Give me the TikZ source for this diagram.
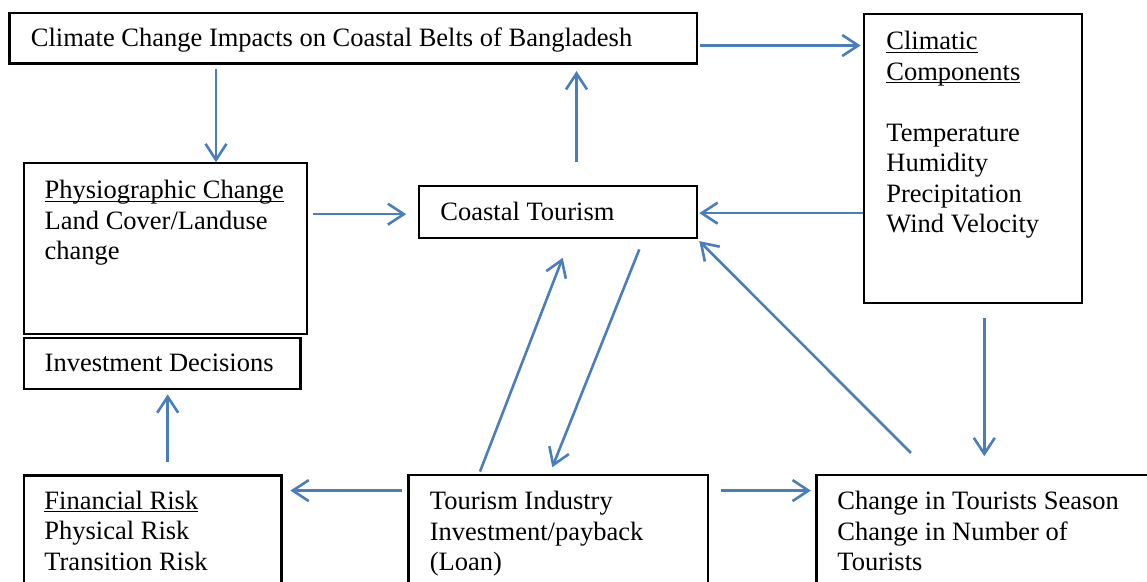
\documentclass[tikz,border=0pt]{standalone}
\usepackage{fontspec}
\setmainfont{Liberation Serif}
\usetikzlibrary{arrows.meta,calc}
\definecolor{arrblue}{HTML}{4A7EBB}
\newsavebox\ulbox
\newcommand\myul[1]{\sbox\ulbox{#1}\rlap{\rule[-1.5pt]{\wd\ulbox}{0.65pt}}\usebox\ulbox}
\newcommand\lines[1]{\begin{tabular}[t]{@{}l@{}}#1\end{tabular}}
\tikzset{
  boxnode/.style={draw=black, line width=1.1pt, inner sep=0pt, fill=none},
  txt/.style={anchor=base west, inner sep=0pt, font=\fontsize{13.25}{15.25}\selectfont},
  arr/.style={draw=arrblue, line width=1.3pt, -{Straight Barb[length=8pt,width=10.5pt]}},
}
\begin{document}
\begin{tikzpicture}[x=0.5pt,y=-0.5pt]
\useasboundingbox (0,0) rectangle (1147,582);
\clip (0,0) rectangle (1147,582);
% boxes
\node[boxnode, minimum width=687.5*0.5pt, minimum height=50.8*0.5pt] (b1) at (353.25,38.1) {};
\node[boxnode, minimum width=218*0.5pt, minimum height=288.4*0.5pt] (cl) at (972.7,158.5) {};
\node[boxnode, minimum width=282.7*0.5pt, minimum height=170.4*0.5pt] (ph) at (165.35,248.5) {};
\node[boxnode, minimum width=276.5*0.5pt, minimum height=51.6*0.5pt] (inv) at (162.25,363.5) {};
\node[boxnode, minimum width=277.4*0.5pt, minimum height=52.3*0.5pt] (ct) at (558,212.15) {};
\node[boxnode, minimum width=257.5*0.5pt, minimum height=124.5*0.5pt] (fr) at (152.75,537.75) {};
\node[boxnode, minimum width=299.5*0.5pt, minimum height=125*0.5pt] (ti) at (558.25,537.5) {};
\node[boxnode, minimum width=343.5*0.5pt, minimum height=125*0.5pt] (cs) at (988.25,537.5) {};
% texts
\node[txt] (t1) at (30.5,46.7) {Climate Change Impacts on Coastal Belts of Bangladesh};
\node[txt] (tcl) at (886,50) {\lines{\myul{Climatic}\\\myul{Components}\\~\\Temperature\\Humidity\\Precipitation\\Wind Velocity}};
\node[txt] (tph) at (44.3,199) {\lines{\myul{Physiographic Change}\\Land Cover/Landuse\\change}};
\node[txt] (tinv) at (44.3,371.7) {Investment Decisions};
\node[txt] (tct) at (440,220.7) {Coastal Tourism};
\node[txt] (tfr) at (44,509.3) {\lines{\myul{Financial Risk}\\Physical Risk\\Transition Risk}};
\node[txt] (tti) at (429.5,510) {\lines{Tourism Industry\\Investment/payback\\(Loan)}};
\node[txt] (tcs) at (837,510) {\lines{Change in Tourists Season\\Change in Number of\\Tourists}};
% arrows
\draw[arr] ($(b1.east)+(2,7.4)$) -- ($(b1.east -| cl.west)+(-2,7.4)$);
\draw[arr] ($(ph.north |- b1.south)+(50.65,4.5)$) -- ($(ph.north)+(50.65,0)$);
\draw[arr] ($(ct.north)+(18.5,-23)$) -- ($(ct.north |- b1.south)+(18.5,6.5)$);
\draw[arr] ($(ph.east |- ct.west)+(5.6,2)$) -- ($(ct.west)+(-12,2)$);
\draw[arr] ($(cl.west |- ct.east)+(0,1)$) -- ($(ct.east)+(1.5,1)$);
\draw[arr] ($(cs.north west)+(95.5,-21)$) -- ($(ct.south east)+(1.5,1.7)$);
\draw[arr] ($(cl.south)+(11.6,14.6)$) -- ($(cl.south |- cs.north)+(11.6,-17.7)$);
\draw[arr] ($(ti.north)+(-78.25,-2.3)$) -- ($(ct.south)+(4.7,18.4)$);
\draw[arr] ($(ct.south)+(81.3,10)$) -- ($(ti.north)+(-5.95,-6.7)$);
\draw[arr] ($(ti.north west)+(-5.8,16.7)$) -- ($(fr.north east)+(7.8,16.2)$);
\draw[arr] ($(ti.north east)+(12,16.7)$) -- ($(cs.north west)+(-4.5,16.7)$);
\draw[arr] ($(fr.north)+(14.95,-12.2)$) -- ($(inv.south)+(5.45,4)$);
\end{tikzpicture}
\end{document}
